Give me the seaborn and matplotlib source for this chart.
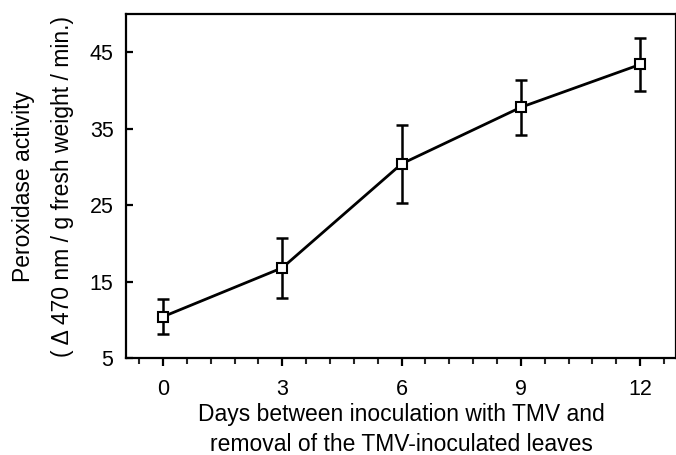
import numpy as np
import pandas as pd
import seaborn as sns
from matplotlib import pyplot as plt
from matplotlib.ticker import MultipleLocator

# values
days = [0, 3, 6, 9, 12]
activity = [10.4, 16.8, 30.4, 37.8, 43.4]
err = [2.3, 3.9, 5.1, 3.6, 3.5]

sns.set_style('ticks')
plt.rcParams['font.family'] = ['Liberation Sans', 'DejaVu Sans']
plt.rcParams['text.color'] = 'black'
plt.rcParams['axes.labelcolor'] = 'black'

df = pd.DataFrame({'day': days, 'activity': activity, 'err': err})

fig = plt.figure(figsize=(6.76, 4.55), dpi=100)
ax = fig.add_axes([0.1864, 0.2132, 0.8136, 0.756])

ax.errorbar(df['day'], df['activity'], yerr=df['err'], fmt='none',
            ecolor='black', elinewidth=1.8, capsize=4, capthick=1.8, zorder=2)
sns.lineplot(data=df, x='day', y='activity', ax=ax, color='black', lw=2,
             marker='s', markersize=7.5, markerfacecolor='white',
             markeredgecolor='black', markeredgewidth=1.5, zorder=3)

ax.set_xlim(-0.93, 12.9)
ax.set_ylim(5, 50)
ax.set_xticks(days)
ax.xaxis.set_minor_locator(MultipleLocator(0.6))
ax.set_yticks([5, 15, 25, 35, 45])

for s in ax.spines.values():
    s.set_linewidth(1.6)
    s.set_color('black')

ax.tick_params(axis='both', which='major', labelsize=15.5, width=1.6,
               colors='black')
ax.tick_params(axis='x', which='major', length=6, direction='out', pad=9)
ax.tick_params(axis='x', which='minor', width=1.5, length=4, direction='out')
ax.tick_params(axis='y', which='major', length=5, direction='in', pad=9)

ax.set_xlabel('Days between inoculation with TMV and\nremoval of the TMV-inoculated leaves',
              fontsize=16.5, linespacing=1.4, labelpad=2)
ax.set_ylabel('Peroxidase activity\n( \u0394 470 nm / g fresh weight / min.)',
              fontsize=16.5, linespacing=1.9, labelpad=11)

fig.savefig('out.png', dpi=100)
